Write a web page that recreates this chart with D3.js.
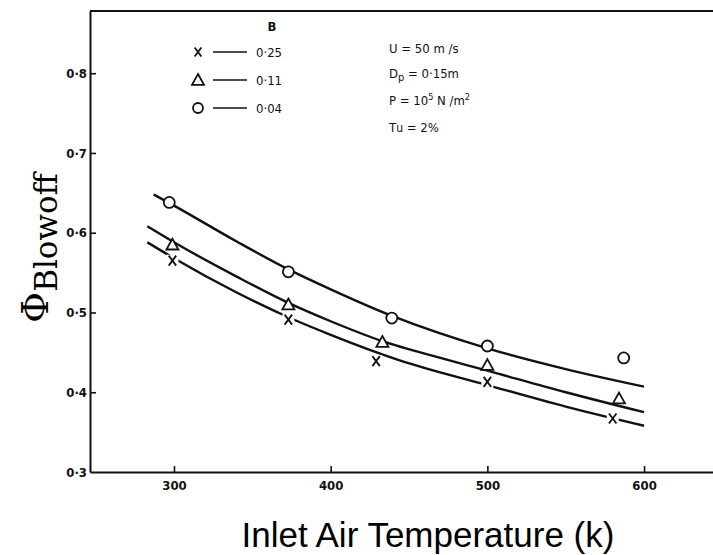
<!DOCTYPE html>
<html>
<head>
<meta charset="utf-8">
<script src="https://cdn.jsdelivr.net/npm/d3@7"></script>
<style>
  body { margin: 0; background: #fff; }
  svg { display: block; }
</style>
</head>
<body>
<svg id="chart"></svg>
<script>
// inlet air temperature (K) and blowoff equivalence ratio
let tempX   = [299, 373, 429, 500, 580];
let phiX    = [0.565, 0.491, 0.439, 0.413, 0.367];
let tempTri = [299, 373, 433, 500, 584];
let phiTri  = [0.585, 0.510, 0.463, 0.434, 0.392];
let tempCir = [297, 373, 439, 500, 587];
let phiCir  = [0.638, 0.551, 0.493, 0.458, 0.443];

// drawn trend curves (knots)
let curveTempX = [283, 300, 340, 373, 400, 444, 500, 550, 600];
let curvePhiX  = [0.588, 0.568, 0.525, 0.494, 0.472, 0.440, 0.409, 0.382, 0.358];
let curveTempTri = [283, 300, 340, 373, 400, 433, 470, 500, 550, 600];
let curvePhiTri  = [0.608, 0.588, 0.545, 0.512, 0.489, 0.464, 0.443, 0.427, 0.400, 0.375];
let curveTempCir = [287, 300, 340, 373, 400, 440, 500, 550, 600];
let curvePhiCir  = [0.648, 0.634, 0.589, 0.554, 0.529, 0.495, 0.455, 0.429, 0.407];

let legendB = ["0·25", "0·11", "0·04"];
let xTicks = [300, 400, 500, 600];
let yTicks = [0.3, 0.4, 0.5, 0.6, 0.7, 0.8];

let ancho = 713, alto = 555;
let svg = d3.select("#chart").attr("width", ancho).attr("height", alto);

let x = d3.scaleLinear().domain([246.4, 644]).range([90, 713]);
let y = d3.scaleLinear().domain([0.3, 0.878]).range([472, 11]);

let tickFont = "'Liberation Sans Narrow', 'DejaVu Sans Condensed', sans-serif";

// frame top line
svg.append("line")
    .attr("x1", 90).attr("x2", ancho)
    .attr("y1", 11).attr("y2", 11)
    .attr("stroke", "#111").attr("stroke-width", 2);

// axes
let yAxis = d3.axisLeft(y)
    .tickValues(yTicks)
    .tickSize(-6)
    .tickSizeOuter(0)
    .tickPadding(3)
    .tickFormat(d => d3.format(".1f")(d).replace(".", "·"));

let gy = svg.append("g").attr("transform", "translate(90,0)").call(yAxis);

let xAxis = d3.axisBottom(x)
    .tickValues(xTicks)
    .tickSize(-6)
    .tickSizeOuter(0)
    .tickPadding(9);

let gx = svg.append("g").attr("transform", "translate(0,472)").call(xAxis);

[gx, gy].forEach(g => {
    g.select(".domain").attr("stroke", "#111").attr("stroke-width", 2);
    g.selectAll(".tick line").attr("stroke", "#111").attr("stroke-width", 1.6);
    g.selectAll(".tick text")
        .attr("fill", "#111")
        .style("font-family", tickFont)
        .style("font-size", "13px")
        .style("font-weight", "bold");
});
gy.select(".tick:first-of-type line").remove();

// curves
let line = d3.line()
    .x(d => x(d[0]))
    .y(d => y(d[1]))
    .curve(d3.curveMonotoneX);

let curves = [
    d3.zip(curveTempX, curvePhiX),
    d3.zip(curveTempTri, curvePhiTri),
    d3.zip(curveTempCir, curvePhiCir)
];

svg.selectAll("path.curve")
    .data(curves)
    .enter()
    .append("path")
    .attr("class", "curve")
    .attr("d", line)
    .attr("fill", "none")
    .attr("stroke", "#111")
    .attr("stroke-width", 2.4);

// marker shapes
function drawCross(g, cx, cy, s) {
    g.append("rect")
        .attr("x", cx - s - 1).attr("y", cy - s - 1)
        .attr("width", 2 * s + 2).attr("height", 2 * s + 2)
        .attr("fill", "#fff");
    g.append("path")
        .attr("d", "M" + (cx - s * 0.75) + "," + (cy - s) + "L" + (cx + s * 0.75) + "," + (cy + s) +
                   "M" + (cx + s * 0.75) + "," + (cy - s) + "L" + (cx - s * 0.75) + "," + (cy + s))
        .attr("stroke", "#111").attr("stroke-width", 1.8).attr("fill", "none");
}
function drawTri(g, cx, cy, s) {
    g.append("path")
        .attr("d", "M" + cx + "," + (cy - s) + "L" + (cx + s) + "," + (cy + s * 0.8) +
                   "L" + (cx - s) + "," + (cy + s * 0.8) + "Z")
        .attr("stroke", "#111").attr("stroke-width", 1.8).attr("fill", "#fff");
}
function drawCirc(g, cx, cy, r) {
    g.append("circle")
        .attr("cx", cx).attr("cy", cy).attr("r", r)
        .attr("stroke", "#111").attr("stroke-width", 1.8).attr("fill", "#fff");
}

let marks = svg.append("g");
tempX.forEach((t, i) => drawCross(marks, x(t), y(phiX[i]), 5));
tempTri.forEach((t, i) => drawTri(marks, x(t), y(phiTri[i]), 6));
tempCir.forEach((t, i) => drawCirc(marks, x(t), y(phiCir[i]), 5.5));

// legend
let leg = svg.append("g").style("font-family", tickFont).style("font-size", "13px").attr("fill", "#111");
leg.append("text").attr("x", 272).attr("y", 31).attr("text-anchor", "middle")
    .style("font-weight", "bold").text("B");
let legY = [52, 80, 108];
let drawers = [
    (g, cx, cy) => drawCross(g, cx, cy, 4.5),
    (g, cx, cy) => drawTri(g, cx, cy, 6),
    (g, cx, cy) => drawCirc(g, cx, cy, 5)
];
legY.forEach((ly, i) => {
    drawers[i](leg, 198, ly);
    leg.append("line").attr("x1", 213).attr("x2", 247).attr("y1", ly).attr("y2", ly)
        .attr("stroke", "#111").attr("stroke-width", 1.6);
    leg.append("text").attr("x", 256).attr("y", ly + 5).text(legendB[i]);
});

// conditions
let cond = svg.append("g").style("font-family", tickFont).style("font-size", "13px").attr("fill", "#111");
let t1 = cond.append("text").attr("x", 389).attr("y", 53);
t1.append("tspan").text("U  = 50 m /s");
let t2 = cond.append("text").attr("x", 389).attr("y", 78);
t2.append("tspan").text("D");
t2.append("tspan").attr("dy", 3).style("font-size", "11px").text("p");
t2.append("tspan").attr("dy", -3).text(" = 0·15m");
let t3 = cond.append("text").attr("x", 389).attr("y", 105);
t3.append("tspan").text("P  = 10");
t3.append("tspan").attr("dy", -5).style("font-size", "9px").text("5");
t3.append("tspan").attr("dy", 5).text(" N /m");
t3.append("tspan").attr("dy", -5).style("font-size", "9px").text("2");
let t4 = cond.append("text").attr("x", 389).attr("y", 132);
t4.append("tspan").text("T");
t4.append("tspan").style("font-size", "12px").text("u");
t4.append("tspan").text(" = 2%");

// axis titles
svg.append("text")
    .attr("x", 428).attr("y", 547)
    .attr("text-anchor", "middle")
    .style("font-family", "'Liberation Sans', Arial, sans-serif")
    .style("font-size", "35px")
    .attr("fill", "#000")
    .text("Inlet Air Temperature (k)");

let yl = svg.append("text")
    .attr("transform", "translate(48,323) rotate(-90)")
    .style("font-family", "'DejaVu Serif', serif")
    .attr("fill", "#000");
yl.append("tspan").style("font-size", "38px").text("Φ");
yl.append("tspan").attr("dy", 9).style("font-size", "31px").text("Blowoff");
</script>
</body>
</html>
